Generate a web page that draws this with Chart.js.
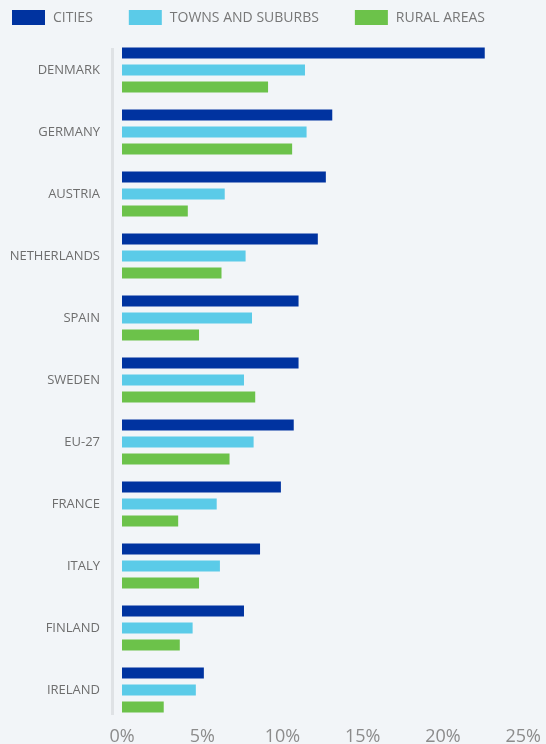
<!DOCTYPE html>
<html>
<head>
<meta charset="utf-8">
<script src="https://cdn.jsdelivr.net/npm/chart.js@4/dist/chart.umd.min.js"></script>
<style>
  html, body { margin: 0; padding: 0; background: #f2f5f8; }
  #wrap { width: 546px; height: 744px; position: relative; }
</style>
</head>
<body>
<div id="wrap"><canvas id="myChart"></canvas></div>
<script>
const countries = ['DENMARK', 'GERMANY', 'AUSTRIA', 'NETHERLANDS', 'SPAIN', 'SWEDEN',
                   'EU-27', 'FRANCE', 'ITALY', 'FINLAND', 'IRELAND']
const cities = [22.6, 13.1, 12.7, 12.2, 11.0, 11.0, 10.7, 9.9, 8.6, 7.6, 5.1]
const towns  = [11.4, 11.5, 6.4, 7.7, 8.1, 7.6, 8.2, 5.9, 6.1, 4.4, 4.6]
const rural  = [9.1, 10.6, 4.1, 6.2, 4.8, 8.3, 6.7, 3.5, 4.8, 3.6, 2.6]
const xTicks = [0, 5, 10, 15, 20, 25]

const seriesNames = ['CITIES', 'TOWNS AND SUBURBS', 'RURAL AREAS']
const colors = ['#0033a0', '#5bcbe8', '#6cc24a']

// background, axis rule and legend drawn by hand
const decor = {
    id: 'decor',
    beforeDraw(chart) {
        const ctx = chart.ctx
        ctx.save()
        ctx.fillStyle = '#f2f5f8'
        ctx.fillRect(0, 0, chart.width, chart.height)
        const a = chart.chartArea
        ctx.strokeStyle = '#dfe2e5'
        ctx.lineWidth = 3
        ctx.beginPath()
        ctx.moveTo(a.left - 9.5, a.top + 9)
        ctx.lineTo(a.left - 9.5, a.bottom - 6)
        ctx.stroke()
        ctx.restore()
    },
    afterDraw(chart) {
        const ctx = chart.ctx
        ctx.save()
        ctx.font = '14px "Open Sans"'
        ctx.textBaseline = 'middle'
        ctx.textAlign = 'left'
        let x = 12
        chart.data.datasets.forEach(ds => {
            ctx.fillStyle = ds.backgroundColor
            ctx.fillRect(x, 10, 33, 15)
            ctx.fillStyle = '#777777'
            ctx.fillText(ds.label, x + 41, 18)
            x += 41 + ctx.measureText(ds.label).width + 36
        })
        ctx.restore()
    }
}

new Chart('myChart', {
    type: 'bar',
    data: {
        labels: countries,
        datasets: [cities, towns, rural].map((d, i) => ({
            label: seriesNames[i],
            data: d,
            backgroundColor: colors[i],
            borderWidth: 0,
            categoryPercentage: 0.823,
            barPercentage: 0.647
        }))
    },
    options: {
        indexAxis: 'y',
        responsive: true,
        maintainAspectRatio: false,
        animation: false,
        layout: { padding: { top: 39, right: 19, left: 0, bottom: 0 } },
        plugins: {
            legend: { display: false },
            tooltip: { enabled: false }
        },
        scales: {
            x: {
                min: 0,
                max: 25,
                afterBuildTicks: s => { s.ticks = xTicks.map(v => ({ value: v })) },
                afterFit: s => { s.height = 23 },
                grid: { display: false, drawTicks: false },
                border: { display: false },
                ticks: {
                    padding: 5,
                    color: '#8c8c8c',
                    font: { family: 'Open Sans', size: 18 },
                    callback: v => v + '%'
                }
            },
            y: {
                afterFit: s => { s.width = 122; s.paddingTop = 0; s.paddingBottom = 0 },
                grid: { display: false, drawTicks: false },
                border: { display: false },
                ticks: {
                    padding: 22,
                    color: '#6e6e6e',
                    font: { family: 'Open Sans', size: 13 }
                }
            }
        }
    },
    plugins: [decor]
})
</script>
</body>
</html>
